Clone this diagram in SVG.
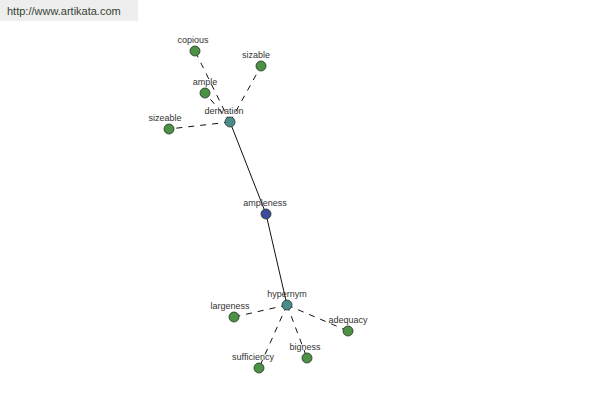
<svg xmlns="http://www.w3.org/2000/svg" width="600" height="400" viewBox="0 0 600 400">
<style>
.n{stroke:#233323;stroke-width:0.8}
.g{fill:#4c9146}
.t{fill:#4a8c8c}
.b{fill:#3e4a9c}
.l{font-family:"Liberation Sans",Arial,sans-serif;font-size:9px;fill:#333;text-anchor:middle}
.d{stroke:#111;stroke-width:1;stroke-dasharray:6,6;fill:none}
.s{stroke:#111;stroke-width:1;fill:none}
</style>
<rect x="0" y="0" width="600" height="400" fill="#fff"/>
<rect x="0" y="0" width="138" height="21" fill="#eeeeee"/>
<text x="7" y="15" style="font-family:'Liberation Sans',Arial,sans-serif;font-size:11px;fill:#334433">http://www.artikata.com</text>
<g id="connectors">
<line class="s" x1="230" y1="122" x2="266" y2="214"/>
<line class="s" x1="266" y1="214" x2="287" y2="305"/>
<line class="d" x1="230" y1="122" x2="195" y2="51"/>
<line class="d" x1="230" y1="122" x2="261" y2="66"/>
<line class="d" x1="230" y1="122" x2="205" y2="93"/>
<line class="d" x1="230" y1="122" x2="169" y2="129"/>
<line class="d" x1="287" y1="305" x2="234" y2="317"/>
<line class="d" x1="287" y1="305" x2="348" y2="331"/>
<line class="d" x1="287" y1="305" x2="307" y2="358"/>
<line class="d" x1="287" y1="305" x2="259" y2="368"/>
</g>
<g id="copious"><circle class="n g" cx="195" cy="51" r="5"/><text class="l" x="193" y="43">copious</text></g>
<g id="sizable"><circle class="n g" cx="261" cy="66" r="5"/><text class="l" x="256" y="58">sizable</text></g>
<g id="ample"><circle class="n g" cx="205" cy="93" r="5"/><text class="l" x="205" y="85">ample</text></g>
<g id="sizeable"><circle class="n g" cx="169" cy="129" r="5"/><text class="l" x="165" y="121">sizeable</text></g>
<g id="derivation"><circle class="n t" cx="230" cy="122" r="5"/><text class="l" x="224" y="114">derivation</text></g>
<g id="ampleness"><circle class="n b" cx="266" cy="214" r="5"/><text class="l" x="265" y="206">ampleness</text></g>
<g id="hypernym"><circle class="n t" cx="287" cy="305" r="5"/><text class="l" x="287" y="297">hypernym</text></g>
<g id="largeness"><circle class="n g" cx="234" cy="317" r="5"/><text class="l" x="230" y="309">largeness</text></g>
<g id="adequacy"><circle class="n g" cx="348" cy="331" r="5"/><text class="l" x="348" y="323">adequacy</text></g>
<g id="bigness"><circle class="n g" cx="307" cy="358" r="5"/><text class="l" x="305" y="350">bigness</text></g>
<g id="sufficiency"><circle class="n g" cx="259" cy="368" r="5"/><text class="l" x="253" y="360">sufficiency</text></g>
</svg>
